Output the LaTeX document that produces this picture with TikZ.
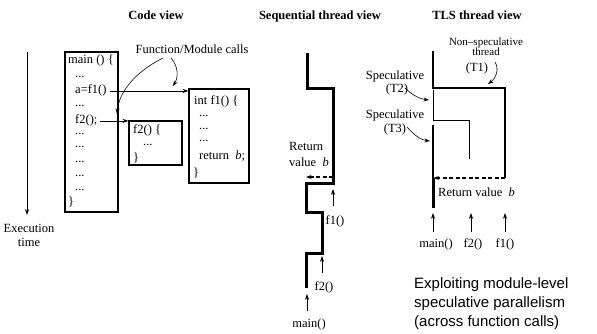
\documentclass[tikz,border=0pt]{standalone}
\usepackage{fontspec}
\setmainfont{Liberation Serif}
\newfontfamily\helv{Liberation Sans}
\usetikzlibrary{arrows.meta}
\begin{document}
\begin{tikzpicture}[x=1pt,y=-1pt,
  txt/.style={font=\fontsize{12.5}{14}\selectfont, inner sep=0, anchor=base west},
  ctxt/.style={font=\fontsize{12.5}{14}\selectfont, inner sep=0, anchor=base},
  stxt/.style={font=\fontsize{11}{12}\selectfont, inner sep=0, anchor=base},
  ttl/.style={font=\fontsize{12.5}{14}\selectfont\bfseries, inner sep=0, anchor=base},
  codebox/.style={draw, line width=1.1pt, inner sep=0},
  arr/.style={-{Stealth[length=6pt,width=4.2pt]}, line width=0.8pt},
  carr/.style={-{Stealth[length=5.5pt,width=4pt]}, line width=0.6pt},
  seqline/.style={line width=3pt, line join=miter},
  tone/.style={line width=2.2pt, line join=miter},
  ttwo/.style={line width=0.8pt, line join=miter},
  tthree/.style={line width=1.2pt},
  dasharr/.style={-{Stealth[length=5.5pt,width=4pt]}, line width=1.2pt, dash pattern=on 4pt off 2.5pt}
]
\useasboundingbox (0,0) rectangle (597,334);

% titles
\node[ttl] (t1) at (156,20) {Code view};
\node[ttl] (t2) at (320,20) {Sequential thread view};
\node[ttl] (t3) at (477,20) {TLS thread view};

% execution time
\coordinate (ex1) at (27,52);
\coordinate (ex2) at (27,215);
\draw[arr, line width=0.9pt] (ex1) -- (ex2);
\node[ctxt] (exa) at (29,232) {Execution};
\node[ctxt] (exb) at (29,246) {time};

% code boxes
\node[codebox, minimum width=53pt, minimum height=160pt] (mainbox) at (91.5,132) {};
\node[codebox, minimum width=53pt, minimum height=44pt] (f2box) at (155.5,143) {};
\node[codebox, minimum width=60pt, minimum height=94pt] (f1box) at (219,136) {};

% main code
\node[txt] (m0) at (68,64) {main () \{};
\node[txt] (m1) at (75,78) {...};
\node[txt] (af1) at (75,94) {a=f1()};
\node[txt] (m3) at (75,107) {...};
\node[txt] (f2c) at (75,124) {f2();};
\node[txt] (m5) at (75,135) {...};
\node[txt] (m6) at (75,148) {...};
\node[txt] (m7) at (75,162) {...};
\node[txt] (m8) at (75,176) {...};
\node[txt] (m9) at (75,190) {...};
\node[txt] (m10) at (68,205) {\}};

% f2 code
\node[txt] (g0) at (133,134) {f2() \{};
\node[txt] (g1) at (143,146) {...};
\node[txt] (g2) at (133,161) {\}};

% f1 code
\node[txt] (h0) at (194,105) {int f1() \{};
\node[txt] (h1) at (199,117) {...};
\node[txt] (h2) at (199,130) {...};
\node[txt] (h3) at (199,142) {...};
\node[txt] (h4) at (199,160) {return\ \ \textit{b};};
\node[txt] (h5) at (193,176) {\}};

% call arrows
\draw[arr] ([xshift=3pt]af1.east) -- (af1.east -| f1box.west);
\draw[arr] ([xshift=2pt]f2c.east) -- (f2c.east -| f2box.west);

% function/module calls
\node[ctxt] (fm) at (192,54) {Function/Module calls};
\coordinate (fmA) at (163,58);
\coordinate (fmAe) at (117,114);
\coordinate (fmB) at (171,58);
\coordinate (fmBe) at (173,86);
\draw[carr] (fmA) .. controls (135,72) and (119,92) .. (fmAe);
\draw[carr] (fmB) .. controls (179,67) and (178,78) .. (fmBe);

% sequential thread
\coordinate (s0) at (307,53);
\coordinate (s1) at (307,89);
\coordinate (s2) at (333,89);
\coordinate (s3) at (333,183);
\coordinate (s4) at (306.5,183);
\coordinate (s5) at (306.5,212);
\coordinate (s6) at (322,212);
\coordinate (s7) at (322,253);
\coordinate (s8) at (306.5,253);
\coordinate (s9) at (306.5,288);
\draw[seqline] (s0) -- (s1) -- (s2) -- (s3) -- (s4) -- (s5) -- (s6) -- (s7) -- (s8) -- (s9);
\coordinate (sr1) at (333,177);
\coordinate (sr2) at (306,177);
\draw[dasharr] (sr1) -- (sr2);
\node[txt] (ret1) at (289,150) {Return};
\node[txt] (ret2) at (289,167) {value\ \ \textit{b}};

\coordinate (sa1) at (333,206);
\coordinate (sa1e) at (333,189);
\draw[arr] (sa1) -- (sa1e);
\node[ctxt] (sl1) at (335,224) {f1()};
\coordinate (sa2) at (322,273);
\coordinate (sa2e) at (322,256);
\draw[arr] (sa2) -- (sa2e);
\node[ctxt] (sl2) at (324,290) {f2()};
\coordinate (sa3) at (307,311);
\coordinate (sa3e) at (307,294);
\draw[arr] (sa3) -- (sa3e);
\node[ctxt] (sl3) at (309,327) {main()};

% TLS thread view
\coordinate (p0) at (433,51);
\coordinate (p1) at (433,88);
\coordinate (p2) at (505,88);
\coordinate (p3) at (505,178);
\draw[tone] (p0) -- (p1) -- (p2) -- (p3);
\coordinate (q0) at (433,90);
\coordinate (q1) at (433,120);
\coordinate (q2) at (469,120);
\coordinate (q3) at (469,159);
\draw[ttwo] (q0) -- (q1) -- (q2) -- (q3);
\coordinate (r0) at (433,125);
\coordinate (r1) at (433,178);
\coordinate (r2) at (433,208);
\draw[tthree] (r0) -- (r1);
\draw[line width=3pt] (r1) -- (r2);
\coordinate (d0) at (505,178);
\coordinate (d1) at (433.5,178);
\draw[dasharr] (d0) -- (d1);
\node[txt] (tret) at (438,196) {Return value\ \ \textit{b}};

\node[stxt] (ns1) at (486,46) {Non--speculative};
\node[stxt] (ns2) at (486,55.5) {thread};
\node[ctxt] (ns3) at (477,72) {(T1)};
\coordinate (na) at (495,62);
\coordinate (nae) at (488,84);
\draw[carr] (na) .. controls (500,70) and (495,79) .. (nae);

\node[ctxt] (sp2) at (395,80) {Speculative};
\node[ctxt] (sp2b) at (397,93) {(T2)};
\coordinate (sp2a) at (405,88);
\coordinate (sp2e) at (429,100);
\draw[carr] (sp2a) .. controls (412,95) and (420,99) .. (sp2e);

\node[ctxt] (sp3) at (395,119) {Speculative};
\node[ctxt] (sp3b) at (395,132) {(T3)};
\coordinate (sp3a) at (407,127);
\coordinate (sp3e) at (430,141);
\draw[carr] (sp3a) .. controls (414,135) and (421,140) .. (sp3e);

\coordinate (ta1) at (433,232);
\coordinate (ta1e) at (433,213);
\draw[arr] (ta1) -- (ta1e);
\coordinate (ta2) at (471,232);
\coordinate (ta2e) at (471,213);
\draw[arr] (ta2) -- (ta2e);
\coordinate (ta3) at (505,232);
\coordinate (ta3e) at (505,213);
\draw[arr] (ta3) -- (ta3e);
\node[ctxt] (tl1) at (436,247) {main()};
\node[ctxt] (tl2) at (473,247) {f2()};
\node[ctxt] (tl3) at (505,247) {f1()};

% caption
\node[font=\helv\fontsize{15}{19}\selectfont, inner sep=0, anchor=north west, align=left] (cap) at (414,277)
  {Exploiting module-level\\speculative parallelism\\(across function calls)};
\end{tikzpicture}
\end{document}
